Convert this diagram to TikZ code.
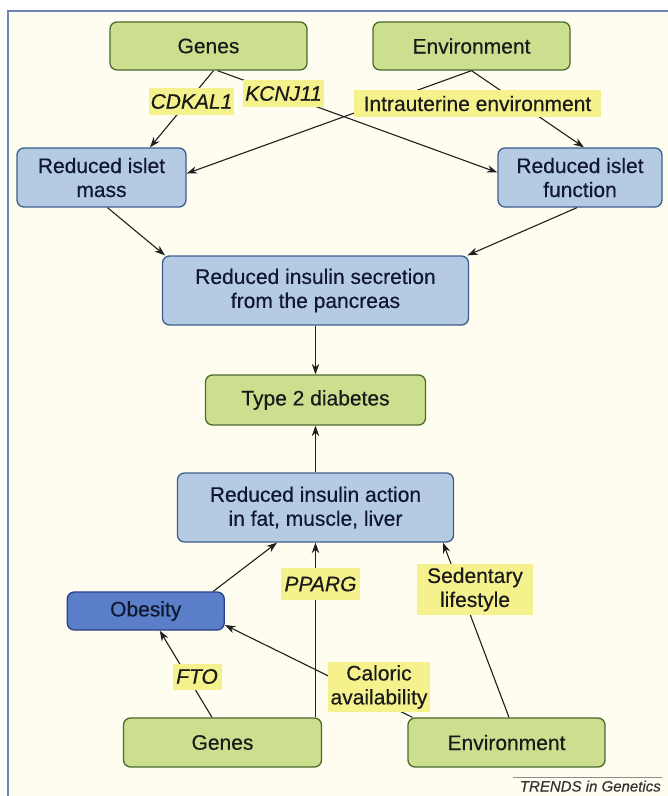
\documentclass[tikz,border=0pt]{standalone}
\usepackage{fontspec}
\setmainfont{Liberation Sans}[FakeBold=0.4]
\usetikzlibrary{arrows.meta}

\definecolor{paper}{HTML}{FFFDF0}
\definecolor{framecol}{HTML}{6C84B4}
\definecolor{greenfill}{HTML}{CCDF8E}
\definecolor{greenline}{HTML}{4B6A2E}
\definecolor{bluefill}{HTML}{B5CBE3}
\definecolor{blueline}{HTML}{3B5E8C}
\definecolor{obesfill}{HTML}{5B7EC9}
\definecolor{obesline}{HTML}{27418A}
\definecolor{tagfill}{HTML}{F5F18C}
\definecolor{inkcol}{HTML}{1A1A1A}
\definecolor{navyink}{HTML}{101830}

\tikzset{
  box/.style={rounded corners=7pt, line width=1.3pt, align=center, inner sep=0pt,
    font=\fontsize{21}{24}\selectfont},
  greenbox/.style={box, draw=greenline, fill=greenfill, text=inkcol},
  bluebox/.style={box, draw=blueline, fill=bluefill, text=navyink},
  obesbox/.style={box, draw=obesline, fill=obesfill, text=navyink},
  tag/.style={fill=tagfill, align=center, inner sep=0pt, text=inkcol,
    font=\fontsize{21}{24}\selectfont},
  gene/.style={tag, font=\fontsize{21}{24}\selectfont\itshape},
  conn/.style={draw=black!88, line width=1.1pt, -{Stealth[length=10.5pt,width=7.5pt]}}
}

\begin{document}
\begin{tikzpicture}[x=1pt, y=-1pt]
  % page and frame
  \useasboundingbox (0,0) rectangle (668,796);
  \fill[white] (0,0) rectangle (668,796);
  \fill[paper] (8,11) rectangle (668,796);
  \draw[framecol, line width=2.4pt] (7.7,796) -- (7.7,11.2) -- (668,11.2);

  % upper half: insulin secretion
  \node[greenbox, minimum width=197pt, minimum height=48pt] (gt) at (208.5,46) {Genes};
  \node[greenbox, minimum width=197pt, minimum height=48pt] (et) at (471.5,46) {Environment};
  \node[bluebox, minimum width=169pt, minimum height=59pt] (mass) at (101.5,177.5) {Reduced islet\\mass};
  \node[bluebox, minimum width=164pt, minimum height=59pt] (func) at (580,177.5) {Reduced islet\\function};
  \node[bluebox, minimum width=306pt, minimum height=69pt] (secr) at (315.5,290.5) {Reduced insulin secretion\\from the pancreas};
  \node[greenbox, minimum width=220pt, minimum height=50pt] (t2d) at (315.5,400) {Type 2 diabetes};

  % lower half: insulin action
  \node[bluebox, minimum width=276pt, minimum height=69pt] (act) at (315.5,507.5) {Reduced insulin action\\in fat, muscle, liver};
  \node[obesbox, minimum width=157pt, minimum height=38pt] (obes) at (145.75,611) {Obesity};
  \node[greenbox, minimum width=198pt, minimum height=49pt] (gb) at (222.5,742.5) {Genes};
  \node[greenbox, minimum width=197pt, minimum height=49pt] (eb) at (506.5,742.5) {Environment};

  % connectors
  \draw[conn] ([xshift=5pt]gt.south) -- ([xshift=48.5pt]mass.north);
  \draw[conn] ([xshift=9pt]gt.south) -- ([yshift=5pt]func.west);
  \draw[conn] (et.south) -- ([yshift=4pt]mass.east);
  \draw[conn] (et.south) -- ([xshift=4pt]func.north);
  \draw[conn] ([xshift=6pt]mass.south) -- ([xshift=-150.5pt]secr.north);
  \draw[conn] ([xshift=-3pt]func.south) -- ([xshift=152pt]secr.north);
  \draw[conn] (secr.south) -- (secr.south |- t2d.north);
  \draw[conn] (act.north) -- (t2d.south);
  \draw[conn] ([xshift=67.5pt]obes.north) -- ([xshift=-38.5pt]act.south);
  \draw[conn] (act.south |- gb.north) -- (act.south);
  \draw[conn] ([xshift=2.5pt]eb.north) -- ([xshift=127.5pt]act.south);
  \draw[conn] ([xshift=-10.5pt]gb.north) -- ([xshift=14pt]obes.south);
  \draw[conn] ([xshift=-94pt]eb.north) -- ([yshift=-14pt]obes.east);

  % factor labels laid over the connectors
  \node[gene, minimum width=85pt, minimum height=27pt] (cdk) at (191.5,101.5) {CDKAL1};
  \node[gene, minimum width=81pt, minimum height=27pt] (kcn) at (283.5,93.5) {KCNJ11};
  \node[tag, minimum width=247pt, minimum height=27pt] (intra) at (477.5,103.5) {Intrauterine environment};
  \node[gene, minimum width=79pt, minimum height=32pt] (pparg) at (320.5,584) {PPARG};
  \node[tag, minimum width=116pt, minimum height=51pt] (sed) at (475,589.5) {Sedentary\\lifestyle};
  \node[gene, minimum width=49pt, minimum height=26pt] (fto) at (197,676.5) {FTO};
  \node[tag, minimum width=102pt, minimum height=50pt] (cal) at (379,687) {Caloric\\availability};

  % journal credit
  \coordinate (ruleL) at (513,777);
  \coordinate (ruleR) at (662,777);
  \draw[black!45, line width=0.8pt] (ruleL) -- (ruleR);
  \node[anchor=base east, inner sep=0pt, text=black!80,
        font=\fontsize{15}{17}\selectfont\itshape] (credit) at (661,791.5) {TRENDS in Genetics};
\end{tikzpicture}
\end{document}
